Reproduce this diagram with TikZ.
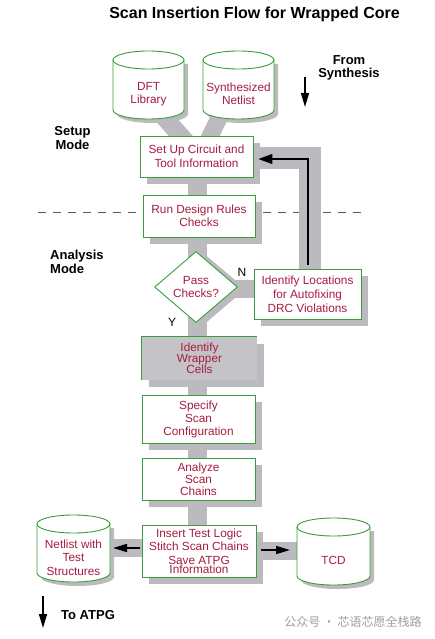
\documentclass[tikz,border=0pt]{standalone}
\usepackage{fontspec}
\setmainfont{Liberation Sans}
\newfontfamily\cjkfont{Noto Sans CJK SC}
\usetikzlibrary{arrows.meta,shapes.geometric,backgrounds,calc}
\definecolor{bandgray}{HTML}{BBBBBF}
\definecolor{wrapgray}{HTML}{C4C4C8}
\definecolor{boxgreen}{HTML}{3A9E3A}
\definecolor{txtred}{HTML}{A51D40}
\newcommand\dbcyl[6]{%
  \pgfmathsetmacro\cyx{(#2+#4)/2}%
  \pgfmathsetmacro\cyk{0.5523*(#4-#2)/2}%
  \begin{pgfonlayer}{background}
    \fill[bandgray] ({#2+4},{#3+13}) -- ({#2+4},{#5-5}) .. controls ({#2+4},{#5}) and ({\cyx-\cyk+4},{#5+4}) .. ({\cyx+4},{#5+4}) .. controls ({\cyx+\cyk+4},{#5+4}) and ({#4+4},{#5}) .. ({#4+4},{#5-5}) -- ({#4+4},{#3+13}) -- cycle;
  \end{pgfonlayer}
  \filldraw[cylline] (#2,{#3+9}) -- (#2,{#5-9}) .. controls (#2,{#5-4}) and ({\cyx-\cyk},#5) .. (\cyx,#5) .. controls ({\cyx+\cyk},#5) and (#4,{#5-4}) .. (#4,{#5-9}) -- (#4,{#3+9}) .. controls (#4,{#3+4}) and ({\cyx+\cyk},#3) .. (\cyx,#3) .. controls ({\cyx-\cyk},#3) and (#2,{#3+4}) .. (#2,{#3+9}) -- cycle;
  \draw[cylline, fill=none] (#2,{#3+9}) .. controls (#2,{#3+14}) and ({\cyx-\cyk},{#3+18}) .. (\cyx,{#3+18}) .. controls ({\cyx+\cyk},{#3+18}) and (#4,{#3+14}) .. (#4,{#3+9});
  \coordinate (#1-b) at (\cyx,#5);
  \coordinate (#1-l) at (#2,{(#3+#5)/2});
  \coordinate (#1-r) at (#4,{(#3+#5)/2});
  \node[cyltext] (#1) at (\cyx,{(#3+#5)/2+9}) {#6};
}
\begin{document}
\begin{tikzpicture}[x=1pt,y=-1pt,
  box/.style={draw=boxgreen, line width=0.9pt, fill=white, inner sep=0pt, align=center, text=txtred, font=\fontsize{11.8}{13.5}\selectfont},
  cylline/.style={draw=boxgreen, line width=0.9pt, fill=white},
  cyltext/.style={align=center, text=txtred, font=\fontsize{11.8}{13.5}\selectfont, inner sep=0pt},
  band/.style={draw=bandgray, line width=#1},
  arr/.style={draw=black, line width=1.6pt, -{Triangle[length=14pt,width=8pt]}},
  lbl/.style={font=\fontsize{13}{14}\selectfont\bfseries, align=center, inner sep=0pt},
  shbox/.style={fill=bandgray}]
\begin{pgfonlayer}{background}
  \fill[white] (0,0) rectangle (434,639);
\end{pgfonlayer}
\useasboundingbox (0,0) rectangle (434,639);

% title and side labels
\node[lbl, font=\fontsize{16}{18}\selectfont\bfseries] (title) at (254.5,14) {Scan Insertion Flow for Wrapped Core};
\node[lbl, font=\fontsize{13}{12.5}\selectfont\bfseries] (fromsyn) at (349,68) {From\\Synthesis};
\node[lbl] (setmode) at (72.5,138) {Setup\\Mode};
\node[lbl, align=left, anchor=west] (anmode) at (50,262) {Analysis\\Mode};
\node[lbl, anchor=west] (toatpg) at (61,615) {To ATPG};
\coordinate (fs1) at (305,77);
\coordinate (fs2) at (305,107);
\coordinate (ta1) at (43,596);
\coordinate (ta2) at (43,628);
\coordinate (dl1) at (38,212);
\coordinate (dl2) at (367,212);

% cylinders
\dbcyl{dft}{113}{51}{184}{119}{DFT\\Library}
\dbcyl{syn}{203}{51}{274}{119}{Synthesized\\Netlist}
\dbcyl{netl}{37}{515}{110}{582}{Netlist with\\Test\\Structures}
\dbcyl{tcd}{297}{518}{370}{585}{TCD}

% boxes
\node[box, minimum width=113pt, minimum height=41pt] (setup) at (196.5,156.5) {Set Up Circuit and\\Tool Information};
\node[box, minimum width=112pt, minimum height=42pt] (drc) at (199,216) {Run Design Rules\\Checks};
\node[box, diamond, minimum width=83pt, minimum height=71pt, font=\fontsize{11.8}{12.5}\selectfont] (dia) at (196,287) {Pass\\Checks?};
\node[box, minimum width=107pt, minimum height=50pt, font=\fontsize{11.8}{14}\selectfont] (idloc) at (307.5,294) {Identify Locations\\for Autofixing\\DRC Violations};
\node[box, draw=none, fill=wrapgray, minimum width=115pt, minimum height=43pt, font=\fontsize{11.8}{11}\selectfont] (wrap) at (199.5,358.5) {Identify\\Wrapper\\Cells};
\draw[boxgreen, line width=0.9pt] (wrap.south west) -- (wrap.north west) -- (wrap.north east);
\node[box, minimum width=113pt, minimum height=48pt, font=\fontsize{11.8}{13}\selectfont] (spec) at (198.5,419) {Specify\\Scan\\Configuration};
\node[box, minimum width=113pt, minimum height=42pt, font=\fontsize{11.8}{12}\selectfont] (anal) at (198.5,479) {Analyze\\Scan\\Chains};
\node[box, minimum width=114pt, minimum height=52pt, font=\fontsize{11.8}{13.5}\selectfont] (ins) at (199,551) {Insert Test Logic\\Stitch Scan Chains\\Save ATPG\\[-4.5pt]Information};

\node[font=\fontsize{12}{12}\selectfont, inner sep=0pt] (nlbl) at (242,272) {N};
\node[font=\fontsize{12}{12}\selectfont, inner sep=0pt] (ylbl) at (172,322) {Y};

\node[font=\cjkfont\fontsize{12}{12}\selectfont, text=gray!75, inner sep=0pt] (wm) at (353,622) {公众号 · 芯语芯愿全栈路};

% background: dashed separator, bands, shadows
\begin{pgfonlayer}{background}
  \draw[gray!70!black, line width=0.8pt, dash pattern=on 8pt off 7pt] (dl1) -- (dl2);
  \draw[band=19pt] ($(setup.south)+(0.5,-5)$) -- ($(ins.north)+(-2,5)$);
  \draw[band=18pt] ($(dft-b)+(12,-6)$) -- ($(setup.north)+(-9,8)$);
  \draw[band=17pt] ($(syn-b)+(-17,-6)$) -- ($(setup.north)+(10,8)$);
  \draw[band=22pt, line join=miter] ($(setup.east)+(-5,1.5)$) -| ($(idloc.north)+(2.5,5)$);
  \draw[band=18pt] ($(dia.east)+(-6,2)$) -- ($(idloc.west)+(5,-5)$);
  \draw[band=18pt] ($(ins.west)+(5,-3)$) -- ($(netl-r)+(-5,-0.5)$);
  \draw[band=18pt] ($(ins.east)+(-5,0)$) -- ($(tcd-l)+(5,-0.5)$);
  \foreach \b in {setup,drc,idloc,wrap,spec,anal,ins}{
    \fill[shbox] ($(\b.south west)+(7,7)$) rectangle ($(\b.north east)+(7,7)$);
  }
  \node[diamond, fill=bandgray, minimum width=83pt, minimum height=71pt, inner sep=0pt] (diash) at ($(dia)+(8,2)$) {};
\end{pgfonlayer}

% arrows
\draw[arr] (fs1) -- (fs2);
\draw[arr] (ta1) -- (ta2);
\draw[draw=black, line width=1.3pt, -{Triangle[length=14pt,width=10pt]}] ($(idloc.north)+(0.5,-4)$) |- ($(setup.east)+(5,2.5)$);
\draw[arr] ($(ins.west)+(-2,-3)$) -- ($(netl-r)+(3,-0.5)$);
\draw[arr] ($(ins.east)+(5,-1)$) -- ($(tcd-l)+(-7,-1.5)$);
\end{tikzpicture}
\end{document}
